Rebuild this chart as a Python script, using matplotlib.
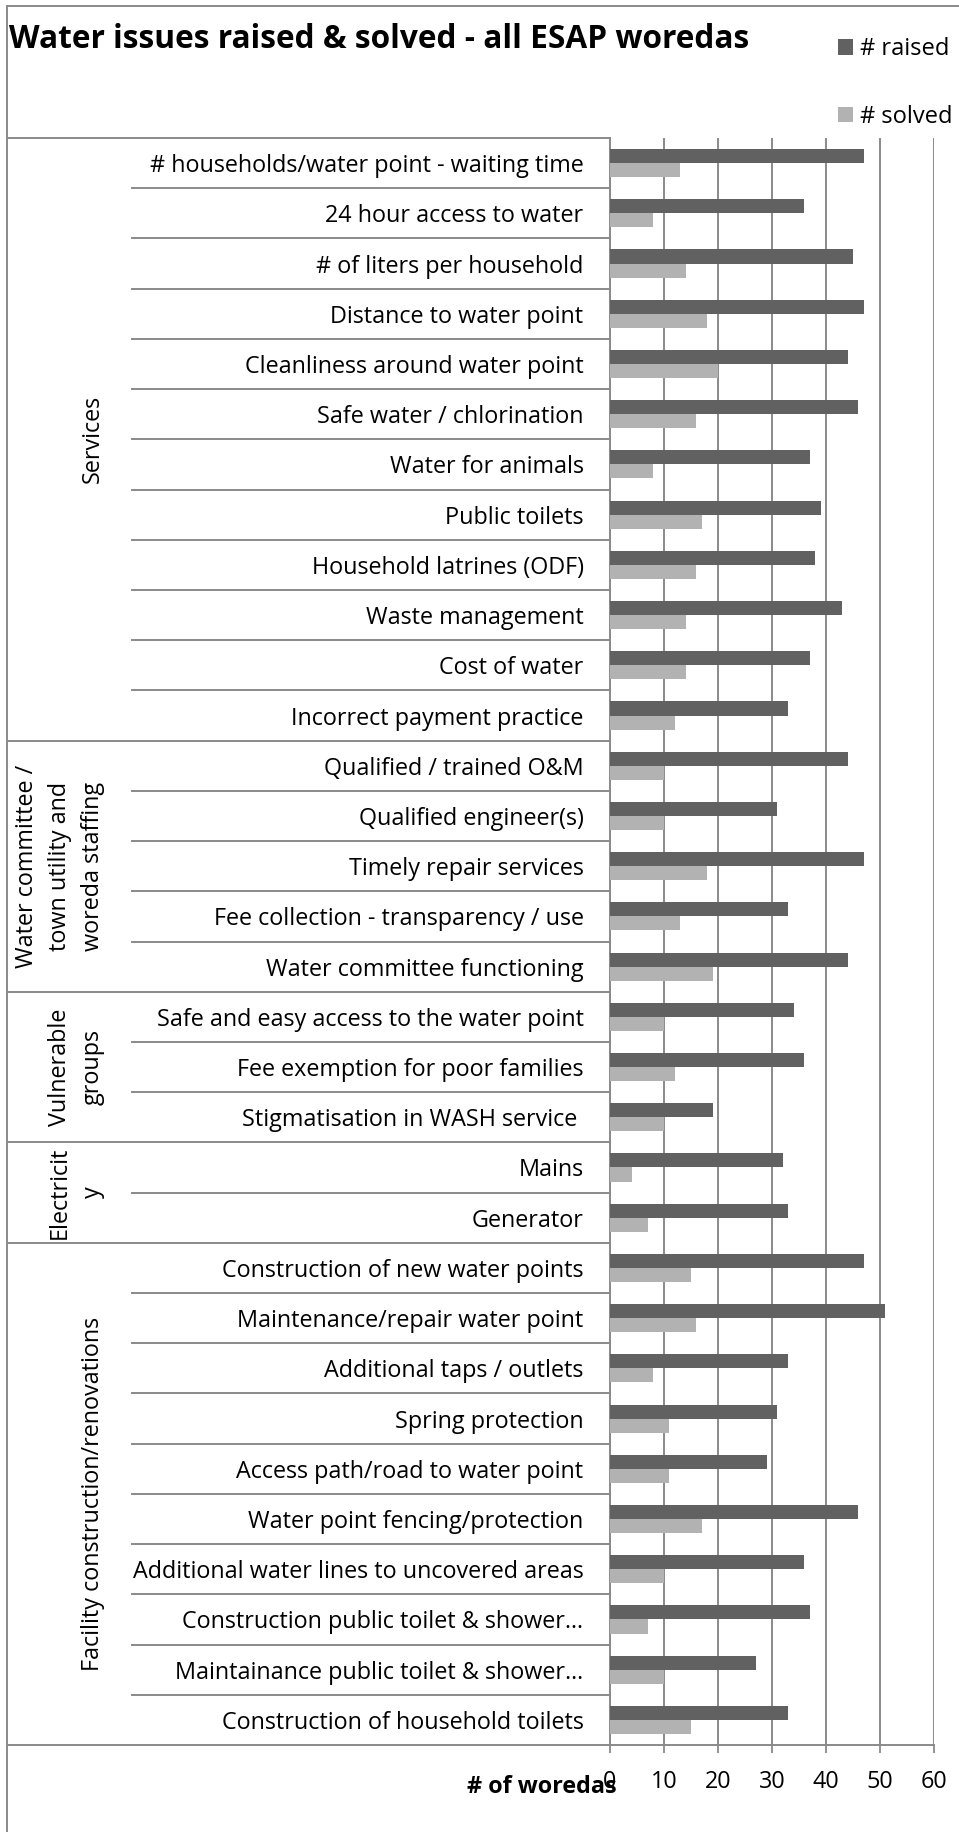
import matplotlib
matplotlib.use("Agg")
import matplotlib.pyplot as plt
from matplotlib.lines import Line2D
from matplotlib import transforms
import numpy as np

plt.rcParams["font.family"] = ["Open Sans", "DejaVu Sans"]

# data
issues = [
    "# households/water point - waiting time",
    "24 hour access to water",
    "# of liters per household",
    "Distance to water point",
    "Cleanliness around water point",
    "Safe water / chlorination",
    "Water for animals",
    "Public toilets",
    "Household latrines (ODF)",
    "Waste management",
    "Cost of water",
    "Incorrect payment practice",
    "Qualified / trained O&M",
    "Qualified engineer(s)",
    "Timely repair services",
    "Fee collection - transparency / use",
    "Water committee functioning",
    "Safe and easy access to the water point",
    "Fee exemption for poor families",
    "Stigmatisation in WASH service ",
    "Mains",
    "Generator",
    "Construction of new water points",
    "Maintenance/repair water point",
    "Additional taps / outlets",
    "Spring protection",
    "Access path/road to water point",
    "Water point fencing/protection",
    "Additional water lines to uncovered areas",
    "Construction public toilet & shower…",
    "Maintainance public toilet & shower…",
    "Construction of household toilets",
]
raised = [47, 36, 45, 47, 44, 46, 37, 39, 38, 43, 37, 33,
          44, 31, 47, 33, 44,
          34, 36, 19,
          32, 33,
          47, 51, 33, 31, 29, 46, 36, 37, 27, 33]
solved = [13, 8, 14, 18, 20, 16, 8, 17, 16, 14, 14, 12,
          10, 10, 18, 13, 19,
          10, 12, 10,
          4, 7,
          15, 16, 8, 11, 11, 17, 10, 7, 10, 15]
groups = ["Services",
          "Water committee /\ntown utility and\nworeda staffing",
          "Vulnerable\ngroups",
          "Electricit\ny",
          "Facility construction/renovations"]
group_sizes = [12, 5, 3, 2, 10]
x_ticks = [0, 10, 20, 30, 40, 50, 60]

# layout in pixels
W, H = 959, 1832
ax_left, ax_right, ax_top, ax_bottom = 610, 934, 138, 1745
line_color = "#8a8a8a"
fs = 16.8

fig = plt.figure(figsize=(W / 100, H / 100), dpi=100)
ax = fig.add_axes([ax_left / W, 1 - ax_bottom / H,
                   (ax_right - ax_left) / W, (ax_bottom - ax_top) / H])

rows = np.arange(len(issues))
bar_h = 0.28
ax.barh(rows - 0.14, raised, height=bar_h, color="#616161", label="# raised", zorder=3)
ax.barh(rows + 0.14, solved, height=bar_h, color="#b2b2b2", label="# solved", zorder=3)

ax.set_xlim(0, 60)
ax.set_ylim(len(issues) - 0.5, -0.5)
ax.set_xticks(x_ticks)
ax.tick_params(axis="x", labelsize=fs, length=6, width=1.3, color=line_color, pad=12)
ax.set_yticks(rows)
ax.set_yticklabels(issues, fontsize=fs)
ax.tick_params(axis="y", length=0, pad=19)
ax.grid(axis="x", color=line_color, linewidth=1.4, zorder=0)
for s in ["top", "right"]:
    ax.spines[s].set_visible(False)
for s in ["left", "bottom"]:
    ax.spines[s].set_color(line_color)
    ax.spines[s].set_linewidth(1.4)

# separator lines in the category area
trans = transforms.blended_transform_factory(ax.transAxes, ax.transData)
def ax_x(px):
    return (px - ax_left) / (ax_right - ax_left)

bounds = np.cumsum([0] + group_sizes)
for b in range(1, len(issues)):
    x0 = ax_x(7) if b in bounds else ax_x(132)
    ax.add_line(Line2D([x0, 0], [b - 0.5, b - 0.5], transform=trans,
                       color=line_color, linewidth=1.4, clip_on=False))
ax.add_line(Line2D([ax_x(7), 0], [-0.5, -0.5], transform=trans,
                   color=line_color, linewidth=1.4, clip_on=False))
ax.add_line(Line2D([ax_x(7), 0], [len(issues) - 0.5, len(issues) - 0.5], transform=trans,
                   color=line_color, linewidth=1.4, clip_on=False))

# group labels
for g, start, size in zip(groups, bounds[:-1], group_sizes):
    mid = start + (size - 1) / 2
    ax.text(ax_x(105), mid, g, transform=trans, rotation=90, ha="right", va="center",
            multialignment="center", fontsize=fs, linespacing=1.5)

# outer chart border
fig.add_artist(Line2D([7 / W, 7 / W], [0, 1 - 6 / H], color=line_color, linewidth=1.4))
fig.add_artist(Line2D([7 / W, 1], [1 - 6 / H, 1 - 6 / H], color=line_color, linewidth=1.4))

fig.text(9 / W, 1 - 39 / H, "Water issues raised & solved - all ESAP woredas",
         fontsize=22.8, fontweight="bold", va="center", ha="left")
fig.text(617 / W, 1 - 1787 / H, "# of woredas", fontsize=fs, fontweight="bold",
         ha="right", va="center")

fig.legend(loc="upper left", bbox_to_anchor=(838 / W, 1 - 37 / H), frameon=False,
           fontsize=17, handlelength=0.65, handleheight=0.65, handletextpad=0.3,
           labelspacing=1.85, borderpad=0, borderaxespad=0)

fig.savefig("out.png", dpi=100)
